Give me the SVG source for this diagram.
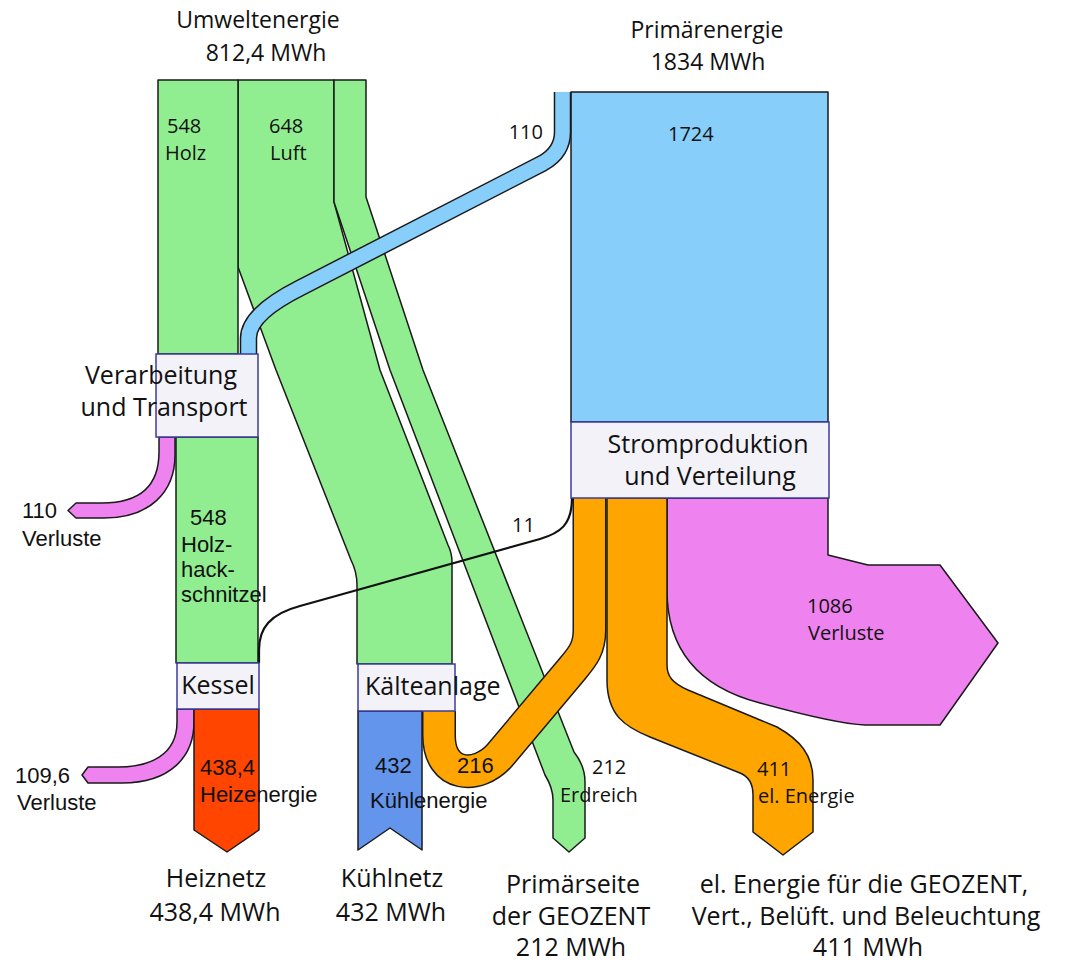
<svg xmlns="http://www.w3.org/2000/svg" width="1066" height="963" viewBox="0 0 1066 963">
<style>
.band{stroke:#1a1a1a;stroke-width:1.5;stroke-linejoin:round}
.green{fill:#90EE90}
.pink{fill:#EE82EE}
.orange{fill:#FFA500}
.red{fill:#FF4500}
.kblue{fill:#6495ED}
.lblue{fill:#87CEFA}
.node{fill:#F2F2F8;stroke:#3B3B9E;stroke-width:1.5}
.t{font-family:"Open Sans","Noto Sans","Liberation Sans",sans-serif;fill:#111}
.title{font-size:23px;text-anchor:middle}
.bot{font-size:25px;text-anchor:middle}
.nl{font-size:25px}
.lab{font-size:20px}
.tl{font-family:"Liberation Sans","Arial",sans-serif;font-size:22px;fill:#111}
</style>

<g id="connectors">
  <!-- Luft -->
  <path class="band green" d="M238,80 L334,80 L334,202 L380,370 L448,545 Q452,553 452,562 L452,664 L357,664 L357,585 Q357,572 351,560 L276,370 L238,267 Z"/>
  <!-- Erdreich -->
  <path class="band green" d="M334,80 L366,80 L366,197 L423,370 L574,752 Q585,766 585,782 L585,838 L569,852 L553,838 L553,800 Q553,788 545,775 L390,370 L334,202 Z"/>
  <!-- Holz -->
  <rect class="band green" x="158" y="80" width="80" height="274"/>
  <!-- Holzhackschnitzel -->
  <rect class="band green" x="176" y="437" width="82" height="226"/>
  <!-- Verluste Verarbeitung -->
  <path class="band pink" d="M159,437 L159,452 C159,490 135,503 102,503 L76,503 L68,510.5 L76,518 L104,518 C150,518 175,492 175,455 L175,437 Z"/>
  <!-- Verluste Kessel -->
  <path class="band pink" d="M177,709 L177,722 C177,755 150,767 118,767 L88,767 L82,775 L88,783 L122,783 C170,783 194,757 194,722 L194,709 Z"/>
  <!-- Heizenergie -->
  <path class="band red" d="M194,709 L259,709 L259,830 L227,852 L194,830 Z"/>
  <!-- Kuehlenergie -->
  <path class="band kblue" d="M358,711 L422,711 L422,850 L390,828 L358,850 Z"/>
  <!-- Primaerenergie 1724 -->
  <rect class="band lblue" x="571" y="92" width="257" height="330"/>
  <!-- Verluste Strom -->
  <path class="band pink" d="M667,498 L828,498 L828,555 L868,565 L940,565 L998,643 L940,725 L865,725 C840,724 800,714 760,703 C710,690 667,660 667,590 Z"/>
  <!-- el. Energie 411 -->
  <path class="band orange" d="M607,498 L607,680 C607,715 625,727 650,737 L740,773 C750,777 753,785 753,795 L753,832 L783,855 L813,832 L813,780 C813,755 800,740 777,727 L688,690 C672,683 667,676 667,665 L667,498 Z"/>
  <!-- 216 to Kaelteanlage -->
  <path d="M439,711 L439,735 C439,778 478,780 500,755 L573,668 C583,656 589.5,648 589.5,630 L589.5,498" fill="none" stroke="#1a1a1a" stroke-width="34"/>
  <path d="M439,711 L439,735 C439,778 478,780 500,755 L573,668 C583,656 589.5,648 589.5,630 L589.5,498" fill="none" stroke="#FFA500" stroke-width="31"/>
  <!-- 110 blue pipe -->
  <path d="M562.5,92 L562.5,132 Q562.5,152 543,163 L300,288 Q248.5,314 248.5,338 L248.5,354" fill="none" stroke="#1a1a1a" stroke-width="17.5"/>
  <path d="M562.5,92 L562.5,132 Q562.5,152 543,163 L300,288 Q248.5,314 248.5,338 L248.5,354" fill="none" stroke="#87CEFA" stroke-width="14.5"/>
  <!-- 11 line -->
  <path d="M572,498 C572,525 560,533 540,539 L300,606 C270,614 259,628 259,650 L259,663" fill="none" stroke="#111" stroke-width="2.2"/>

  <!-- flow labels -->
  <text class="t lab" x="167" y="133">548</text>
  <text class="t lab" x="165" y="160">Holz</text>
  <text class="t lab" x="269" y="133">648</text>
  <text class="t lab" x="270" y="160">Luft</text>
  <text class="t lab" x="543" y="139" text-anchor="end">110</text>
  <text class="t lab" x="668" y="141">1724</text>
  <text class="t lab" x="512" y="532">11</text>
  <text class="t lab" x="807" y="613">1086</text>
  <text class="t lab" x="808" y="640">Verluste</text>
  <text class="t lab" x="592" y="774">212</text>
  <text class="t lab" x="560" y="802">Erdreich</text>
  <text class="t lab" x="757" y="776">411</text>
  <text class="t lab" x="758" y="803">el. Energie</text>

  <text class="tl" x="22" y="518">110</text>
  <text class="tl" x="22" y="546">Verluste</text>
  <text class="tl" x="190" y="525">548</text>
  <text class="tl" x="181" y="552">Holz-</text>
  <text class="tl" x="181" y="577">hack-</text>
  <text class="tl" x="181" y="602">schnitzel</text>
  <text class="tl" x="15" y="783">109,6</text>
  <text class="tl" x="17" y="810">Verluste</text>
  <text class="tl" x="200" y="775">438,4</text>
  <text class="tl" x="200" y="802">Heizenergie</text>
  <text class="tl" x="375" y="773">432</text>
  <text class="tl" x="370" y="808">Kühlenergie</text>
  <text class="tl" x="457" y="773">216</text>
</g>

<g id="umweltenergie">
  <text class="t title" x="258" y="28">Umweltenergie</text>
  <text class="t title" x="266" y="61">812,4 MWh</text>
</g>
<g id="primaerenergie">
  <text class="t title" x="707" y="38">Primärenergie</text>
  <text class="t title" x="708" y="70">1834 MWh</text>
</g>
<g id="verarbeitung">
  <rect class="node" x="156" y="354" width="102" height="83"/>
  <text class="t nl" x="161" y="384" text-anchor="middle">Verarbeitung</text>
  <text class="t nl" x="164" y="416" text-anchor="middle">und Transport</text>
</g>
<g id="stromproduktion">
  <rect class="node" x="571" y="422" width="258" height="76"/>
  <text class="t nl" x="708" y="453" text-anchor="middle">Stromproduktion</text>
  <text class="t nl" x="710" y="485" text-anchor="middle">und Verteilung</text>
</g>
<g id="kessel">
  <rect class="node" x="177" y="663" width="82" height="46"/>
  <text class="t nl" x="218" y="694" text-anchor="middle">Kessel</text>
</g>
<g id="kaelteanlage">
  <rect class="node" x="358" y="664" width="97" height="47"/>
  <text class="t nl" x="365" y="695">Kälteanlage</text>
</g>
<g id="heiznetz">
  <text class="t bot" x="216" y="887">Heiznetz</text>
  <text class="t bot" x="215" y="921">438,4 MWh</text>
</g>
<g id="kuehlnetz">
  <text class="t bot" x="392" y="887">Kühlnetz</text>
  <text class="t bot" x="391" y="921">432 MWh</text>
</g>
<g id="primaerseite">
  <text class="t bot" x="573" y="893">Primärseite</text>
  <text class="t bot" x="571" y="925">der GEOZENT</text>
  <text class="t bot" x="571" y="956">212 MWh</text>
</g>
<g id="elenergie">
  <text class="t bot" x="864" y="893">el. Energie für die GEOZENT,</text>
  <text class="t bot" x="866" y="925">Vert., Belüft. und Beleuchtung</text>
  <text class="t bot" x="868" y="956">411 MWh</text>
</g>
</svg>
